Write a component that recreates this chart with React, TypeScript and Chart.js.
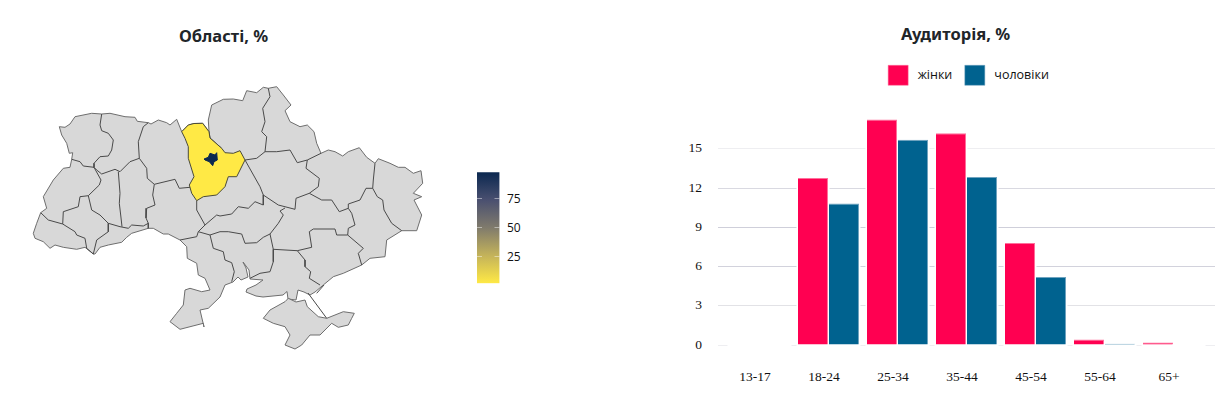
import { useEffect, useRef } from "react";
import { Chart, registerables } from "chart.js";

Chart.register(...registerables);

// opaque canvases, painted white before each draw
Chart.register({
  id: "paper",
  beforeDraw(chart: any) {
    chart.ctx.save();
    chart.ctx.fillStyle = "#fff";
    chart.ctx.fillRect(0, 0, chart.width, chart.height);
    chart.ctx.restore();
  },
});

const categories = ["13-17", "18-24", "25-34", "35-44", "45-54", "55-64", "65+"];
const femaleShare = [null, 12.77, 17.24, 16.2, 7.8, 0.43, 0.2];
const maleShare = [null, 10.83, 15.7, 12.85, 5.2, 0.1, null];
const audienceTicks = [0, 3, 6, 9, 12, 15];
const audienceGrid = ["#eeeef1", "#e2e2e6", "#d2d2dc", "#cfcfda", "#d9d9e1", "#eeeef1"];

const colorbarRange = [1.4, 98.3];
const colorbarTicks = [25, 50, 75];

// map grid units
const mainlandOutline = [
  [59.3, 126.7], [65, 127.3], [70, 124], [75, 116.7], [91.7, 113.3], [101.7, 114], [110, 113.3], [125, 116.7],
  [135, 117.3], [137.3, 121.3], [148.3, 122.7], [151, 124], [158.3, 120], [166.7, 122.7], [170, 125], [176.7, 119.3],
  [181.7, 131.7], [188.3, 125], [194, 123.5], [202.7, 123.3], [209, 131.7], [208.3, 120], [211.7, 105], [223.3, 99.3],
  [233.3, 99], [242.7, 100.7], [246.7, 90.7], [256.7, 92.7], [263.3, 87.3], [268.3, 88.3], [276.7, 86.7], [283.3, 95],
  [291, 105], [285, 110.7], [290, 121.7], [300, 126.7], [307.3, 125], [314, 131.7], [316.7, 143.3], [321, 153.3],
  [328.3, 150], [335, 151.7], [342.7, 156], [348.3, 151.7], [359.3, 147.7], [366.7, 157.3], [375, 163.3], [378.3, 158.7],
  [390, 163.3], [398.3, 167.3], [405, 167.3], [413.3, 173.3], [421, 170.7], [422.7, 183.3], [413.3, 193.3], [421.7, 196.7],
  [414, 200], [421.7, 215], [416.7, 230.7], [401.7, 230.7], [386.7, 240], [385, 256.7], [370, 258.3], [361.7, 265],
  [343.3, 273.3], [333.3, 276.7], [323.3, 285], [315, 292], [310, 295], [304, 292], [298, 290], [296, 300],
  [288, 299], [287, 291.5], [283, 295], [263, 297], [256, 296], [246, 292], [247, 289], [256, 285],
  [263, 280], [250, 279], [249, 270], [243, 262], [246, 268], [248, 277], [241, 280], [238, 277],
  [233, 282], [225, 285], [220, 297], [208.3, 308.3], [200, 310], [204, 327], [203.3, 323.3], [180, 329.3],
  [170, 321.7], [176.7, 313.3], [183.3, 305], [185, 290], [190, 288.3], [201.7, 291.7], [210, 290], [205, 278.3],
  [198.3, 275], [196.7, 263.3], [187.3, 258.3], [186.7, 246.7], [180, 240], [168.3, 234], [163.3, 234], [153.3, 228.3],
  [148.3, 228.3], [131.7, 233.3], [126.7, 237.3], [121.7, 242.3], [108.3, 245], [100, 247.3], [95, 254], [93.3, 254],
  [85, 247.3], [76.7, 249.3], [63.3, 247.3], [55, 245], [50, 248.3], [43.3, 241.7], [35, 238.3], [33.3, 233.3],
  [36.7, 223.3], [40.7, 212.7], [46.7, 208.3], [43.3, 196.7], [53.3, 180], [63.3, 168.3], [70, 167.3], [71.7, 159.3],
  [72.7, 152.7], [69.3, 153.3], [66.7, 143.3], [61.7, 135], [59.3, 126.7],
];
const crimeaOutline = [
  [263.3, 318.3], [270, 310], [285, 301.7], [288.3, 298.3], [296, 302], [305, 300], [307.3, 306.7], [318.3, 316.7],
  [326.7, 318.3], [343.3, 311.7], [354.3, 313.3], [351.7, 318.3], [348.3, 325], [338.3, 327.3], [331.7, 323.3], [320, 335],
  [310, 335], [301.7, 345], [295, 349], [285, 345], [290, 335], [285, 326.7], [273.3, 323.3], [263.3, 318.3],
];
const kyivOblast = [
  [181.7, 131.7], [188.3, 125], [194, 123.5], [202.7, 123.3], [209, 131.7], [210, 138], [221.7, 148.3], [225, 152.7],
  [233.3, 153.3], [240, 150.7], [245, 160], [236.7, 176.7], [228.3, 176.7], [225, 186.7], [216.7, 195], [203.3, 196.7],
  [196.7, 200.7], [191.7, 193.3], [189.3, 185], [194, 176.7], [188.3, 158.3], [188.3, 146.7], [185, 138.3], [181.7, 131.7],
];
const kyivCity = [
  [204, 159], [208.3, 157.3], [210, 153.3], [215, 155], [216.7, 152.7], [217.3, 160], [214, 161.7], [212.7, 165.7],
  [209.3, 161.7], [205, 160], [204, 159],
];
const oblastBorders = [
  [[101.7, 114], [100, 125], [101.7, 130.7], [108.3, 133.3], [113.3, 140], [111.7, 150], [108.3, 156], [100, 156.7], [94, 163.3], [94, 167.3]],
  [[71.7, 159.3], [80, 161.7], [83.3, 166], [94, 167.3]],
  [[148.3, 122.7], [143.3, 126.7], [138.3, 141.7], [139.3, 158.3], [146.7, 168.3], [147.3, 178.3], [154.3, 184.3]],
  [[139.3, 158.3], [130, 161.7], [120, 171.7], [115, 169.3], [101.7, 174], [96.7, 170], [94, 167.3]],
  [[94, 167.3], [101, 180], [99.3, 185], [88.3, 195.7], [80, 196.7], [78.3, 206.7], [63.3, 211.7], [62.7, 224]],
  [[40.7, 212.7], [48.3, 220], [62.7, 224], [75, 231.7], [76.7, 235], [85, 238.3], [86.7, 248.3], [93.3, 254]],
  [[88.3, 195.7], [91.7, 210], [100, 215], [108.3, 223.3], [108.3, 231.7], [96.7, 240], [93.3, 254]],
  [[108.3, 223.3], [120, 226.7], [128.3, 228.3], [131.7, 225], [143.3, 226], [148.3, 223.3], [148.3, 228.3]],
  [[118.3, 171.7], [120, 193.3], [119.3, 203.3], [120.7, 215], [122, 226.7]],
  [[154.3, 184.3], [152.7, 195], [155, 205], [146.7, 208.3], [146, 218], [148.3, 223.3]],
  [[154.3, 184.3], [175, 179.3], [179.3, 188.3], [190, 187.3]],
  [[268.3, 88.3], [270, 96.7], [262.7, 108.3], [265, 121.7], [261.7, 131.7], [266.7, 136.7], [265, 151.7], [256.7, 158.3], [245, 160]],
  [[209, 131.7], [210, 138], [221.7, 148.3]],
  [[265, 151.7], [276.7, 151.7], [290, 150], [297.3, 162.7], [307.3, 160], [321, 153.3]],
  [[307.3, 160], [306, 168.3], [319.3, 178.3], [318.3, 186.7], [309.3, 193.3]],
  [[245, 160], [260, 186.7], [263.3, 195], [263.3, 205], [255, 201.7], [248.3, 208.3], [238.3, 206.7], [231.7, 214], [220, 216], [216.7, 215], [205, 225], [196.7, 210], [196.7, 200.7]],
  [[263.3, 195], [278.3, 205], [295, 209.3], [296, 198.3], [309.3, 193.3], [321.7, 200], [331.7, 200], [339.3, 211.7], [348.3, 208.3], [348.3, 204], [360, 200], [366, 188.3], [372.7, 188.3]],
  [[375, 163.3], [373.3, 180], [372.7, 188.3], [377.3, 196.7], [382.7, 200], [384, 210], [391.7, 223.3], [401.7, 230.7]],
  [[348.3, 208.3], [351.7, 213.3], [355, 225], [348.3, 228.3], [347.7, 235], [363.3, 248.3], [358.3, 253.3], [361.7, 265]],
  [[347.7, 235], [336.7, 235], [335, 229], [313.3, 229], [309.3, 231.7], [311.7, 247.3], [297.3, 250.7], [305, 260], [305, 266.7], [310.7, 271.7], [309.3, 278.3], [320, 285]],
  [[297.3, 250.7], [273.3, 249.3], [273.3, 261.7], [270, 271.7], [260, 273.3], [250, 278.3]],
  [[273.3, 249.3], [270, 234], [278.3, 223.3], [283.3, 215], [280, 211], [285, 208]],
  [[270, 234], [263.3, 237.3], [256.7, 242.7], [245, 243.3], [241.7, 234], [228.3, 231.7], [220, 231.7], [210, 235], [198.3, 231.7], [205, 225]],
  [[198.3, 231.7], [196.7, 236.7], [180, 240]],
  [[210, 235], [213.3, 248.3], [223.3, 251.7], [225, 260], [231.7, 262.7], [234.3, 271.7], [231.7, 281.7]],
  [[308, 293], [326.7, 318.3]],
  [[316.7, 293.3], [324, 285]],
];

const toPoints = (ring: number[][]) => ring.map(([x, y]) => ({ x, y }));

const regionSet = (ring: number[][], fill: string, line: string) => ({
  data: toPoints(ring),
  showLine: true,
  fill: "shape",
  backgroundColor: fill,
  borderColor: line,
  borderWidth: 1,
  pointRadius: 0,
  tension: 0,
});

const borderSet = (path: number[][]) => ({
  data: toPoints(path),
  showLine: true,
  fill: false,
  borderColor: "#4a4a4a",
  borderWidth: 1,
  pointRadius: 0,
  tension: 0,
});

// white gap the bars leave in the grid lines
const barHalo = {
  id: "barHalo",
  beforeDatasetsDraw(chart: any) {
    const { ctx } = chart;
    ctx.save();
    ctx.fillStyle = "#fff";
    chart.getSortedVisibleDatasetMetas().forEach((meta: any) => {
      meta.data.forEach((bar: any) => {
        if (bar.skip || !Number.isFinite(bar.y)) return;
        ctx.fillRect(bar.x - bar.width / 2 - 1.5, bar.y - 1.5, bar.width + 3, bar.base - bar.y + 3);
      });
    });
    ctx.restore();
  },
};

// the legend sits a little right of the plot centre
const legendNudge = {
  id: "legendNudge",
  afterLayout(chart: any) {
    chart.legend.left += 2;
    chart.legend.right += 2;
  },
};

function MapChart() {
  const canvasRef = useRef<HTMLCanvasElement | null>(null);

  useEffect(() => {
    if (!canvasRef.current) return;
    canvasRef.current.getContext("2d", { alpha: false });
    const chart = new Chart(canvasRef.current, {
      type: "scatter",
      data: {
        // first dataset is painted last
        datasets: [
          regionSet(kyivCity, "#0b2850", "#0b2850"),
          regionSet(kyivOblast, "#ffe945", "#4a4a3a"),
          ...oblastBorders.map((path) => borderSet(path)),
          regionSet(crimeaOutline, "#d8d8d8", "#6e6e6e"),
          regionSet(mainlandOutline, "#d8d8d8", "#6e6e6e"),
        ] as any,
      },
      options: {
        animation: false,
        responsive: false,
        devicePixelRatio: 1,
        events: [],
        layout: { padding: 0 },
        scales: {
          x: { type: "linear", display: false, min: 0, max: 447 },
          y: { type: "linear", display: false, min: 60, max: 360, reverse: true },
        },
        plugins: {
          legend: { display: false },
          tooltip: { enabled: false },
          title: {
            display: true,
            text: "Області, %",
            color: "#212529",
            font: { family: "'Noto Sans'", size: 16.5, weight: "bold" },
            padding: { top: 27, bottom: 13.2 },
          },
        },
      },
    } as any);
    return () => chart.destroy();
  }, []);

  return (
    <canvas
      ref={canvasRef}
      width={447}
      height={360}
      style={{ position: "absolute", left: 0, top: 0 }}
    />
  );
}

function Colorbar() {
  const canvasRef = useRef<HTMLCanvasElement | null>(null);

  useEffect(() => {
    if (!canvasRef.current) return;
    canvasRef.current.getContext("2d", { alpha: false });
    const chart = new Chart(canvasRef.current, {
      type: "bar",
      data: {
        labels: ["%"],
        datasets: [
          {
            data: [colorbarRange],
            barPercentage: 1,
            categoryPercentage: 1,
            backgroundColor: (c: any) => {
              const area = c.chart.chartArea;
              if (!area) return "#ffe945";
              const g = c.chart.ctx.createLinearGradient(0, area.bottom, 0, area.top);
              g.addColorStop(0, "#ffe945");
              g.addColorStop(0.25, "#c4b35a");
              g.addColorStop(0.5, "#807b6c");
              g.addColorStop(0.75, "#4a5070");
              g.addColorStop(1, "#0b2850");
              return g;
            },
          },
        ],
      },
      options: {
        animation: false,
        responsive: false,
        devicePixelRatio: 1,
        events: [],
        layout: { padding: { left: 7, top: 12.3, bottom: 11.7, right: 0 } },
        scales: {
          x: { display: false },
          y: {
            position: "right",
            min: colorbarRange[0],
            max: colorbarRange[1],
            afterBuildTicks: (s: any) => {
              s.ticks = colorbarTicks.map((value) => ({ value }));
            },
            afterFit: (s: any) => {
              s.width = 40.5;
              s.paddingTop = 0;
              s.paddingBottom = 0;
            },
            border: { display: false, dash: [5, 12.5] },
            grid: { color: "rgba(255,255,255,0.45)", z: 1, drawTicks: false },
            ticks: {
              padding: 7.5,
              labelOffset: 1,
              color: "#111",
              font: { family: "'Open Sans'", size: 12 },
            },
          },
        },
        plugins: { legend: { display: false }, tooltip: { enabled: false } },
      },
    } as any);
    return () => chart.destroy();
  }, []);

  return (
    <canvas
      ref={canvasRef}
      width={70}
      height={135}
      style={{ position: "absolute", left: 470, top: 160 }}
    />
  );
}

function AudienceChart() {
  const canvasRef = useRef<HTMLCanvasElement | null>(null);

  useEffect(() => {
    if (!canvasRef.current) return;
    canvasRef.current.getContext("2d", { alpha: false });
    const chart = new Chart(canvasRef.current, {
      type: "bar",
      plugins: [barHalo, legendNudge],
      data: {
        datasets: [
          {
            label: "жінки",
            data: femaleShare.map((y, x) => ({ x, y })),
            backgroundColor: "#ff0051",
            borderColor: "#ff6f9b",
            borderWidth: { top: 1, right: 1, left: 0, bottom: 0 },
            barPercentage: 0.968,
            categoryPercentage: 0.8986,
          },
          {
            label: "чоловіки",
            data: maleShare.map((y, x) => ({ x, y })),
            backgroundColor: "#00628f",
            borderColor: "#6fa3bf",
            borderWidth: { top: 1, right: 1, left: 0, bottom: 0 },
            barPercentage: 0.968,
            categoryPercentage: 0.8986,
          },
        ],
      },
      options: {
        animation: false,
        responsive: false,
        devicePixelRatio: 1,
        events: [],
        layout: { padding: 0 },
        scales: {
          x: {
            type: "linear",
            offset: false,
            min: -0.601,
            max: 6.601,
            afterBuildTicks: (s: any) => {
              s.ticks = categories.map((_, value) => ({ value }));
            },
            afterFit: (s: any) => {
              s.height = 59;
              s.paddingLeft = 0;
              s.paddingRight = 0;
            },
            grid: { display: false },
            border: { display: false },
            ticks: {
              padding: 16,
              labelOffset: -4.5,
              maxRotation: 0,
              autoSkip: false,
              color: "#111",
              font: { family: "'Liberation Serif'", size: 13.5 },
              callback: (v: any) => categories[v],
            },
          },
          y: {
            min: 0,
            max: 19.1,
            afterBuildTicks: (s: any) => {
              s.ticks = audienceTicks.map((value) => ({ value }));
            },
            afterFit: (s: any) => {
              s.width = 38;
              s.paddingTop = 0;
              s.paddingBottom = 0;
            },
            border: { display: false },
            grid: {
              drawTicks: false,
              color: (c: any) => audienceGrid[c.index] ?? "#e2e2e6",
            },
            ticks: {
              padding: 16,
              color: "#111",
              font: { family: "'Liberation Serif'", size: 13.5 },
            },
          },
          // empty strip right of the plot
          gutter: {
            position: "right",
            grid: { display: false },
            border: { display: false },
            ticks: { display: false },
            afterFit: (s: any) => {
              s.width = 16;
            },
          },
        },
        plugins: {
          tooltip: { enabled: false },
          title: {
            display: true,
            text: "Аудиторія, %",
            color: "#212529",
            font: { family: "'Noto Sans'", size: 16.5, weight: "bold" },
            padding: { top: 25, bottom: 8 },
          },
          legend: {
            position: "top",
            fullSize: false,
            labels: {
              boxWidth: 20,
              boxHeight: 20,
              padding: 12.5,
              color: "#111",
              font: { family: "'Open Sans'", size: 12.5 },
              generateLabels: (c: any) =>
                Chart.defaults.plugins.legend.labels
                  .generateLabels(c)
                  .map((item: any) => ({ ...item, text: " " + item.text })),
            },
          },
        },
      },
    } as any);
    return () => chart.destroy();
  }, []);

  return (
    <canvas
      ref={canvasRef}
      width={551}
      height={404}
      style={{ position: "absolute", left: 680, top: 0 }}
    />
  );
}

export default function App() {
  return (
    <div
      style={{
        position: "absolute",
        left: 0,
        top: 0,
        width: 1232,
        height: 404,
        overflow: "hidden",
        background: "#fff",
      }}
    >
      <MapChart />
      <Colorbar />
      <AudienceChart />
    </div>
  );
}
